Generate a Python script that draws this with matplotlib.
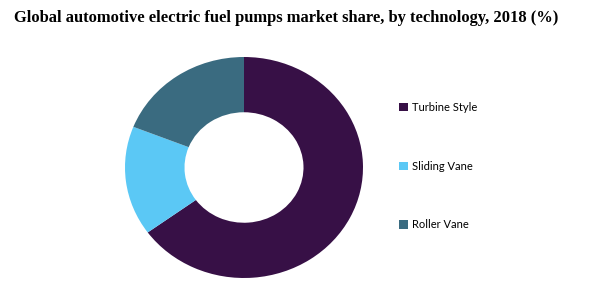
import matplotlib.pyplot as plt

# market share by technology, 2018 (%)
labels = ['Turbine Style', 'Sliding Vane', 'Roller Vane']
shares = [65, 16, 19]
colors = ['#371046', '#5bc8f5', '#3a6b80']

fig = plt.figure(figsize=(6, 3), dpi=100)
fig.text(0.023, 0.94, 'Global automotive electric fuel pumps market share, by technology, 2018 (%)',
         family='Liberation Serif', weight='bold', fontsize=11.9, va='center', ha='left')

ax = fig.add_axes([125/600, 22/300, 238/600, 221/300])
wedges, _ = ax.pie(shares, colors=colors, startangle=90, counterclock=False,
                   radius=1, wedgeprops=dict(width=0.5, edgecolor='none'))
ax.set_aspect('auto')
ax.set_xlim(-1, 1)
ax.set_ylim(-1, 1)
ax.axis('off')

leg = fig.legend(wedges, labels, loc='upper left', bbox_to_anchor=(0.648, 0.693),
                 frameon=False, prop=dict(family='Lato', size=8),
                 handlelength=0.8, handleheight=0.8, handletextpad=0.4,
                 labelspacing=4.28)

fig.savefig('out.png', dpi=100)
